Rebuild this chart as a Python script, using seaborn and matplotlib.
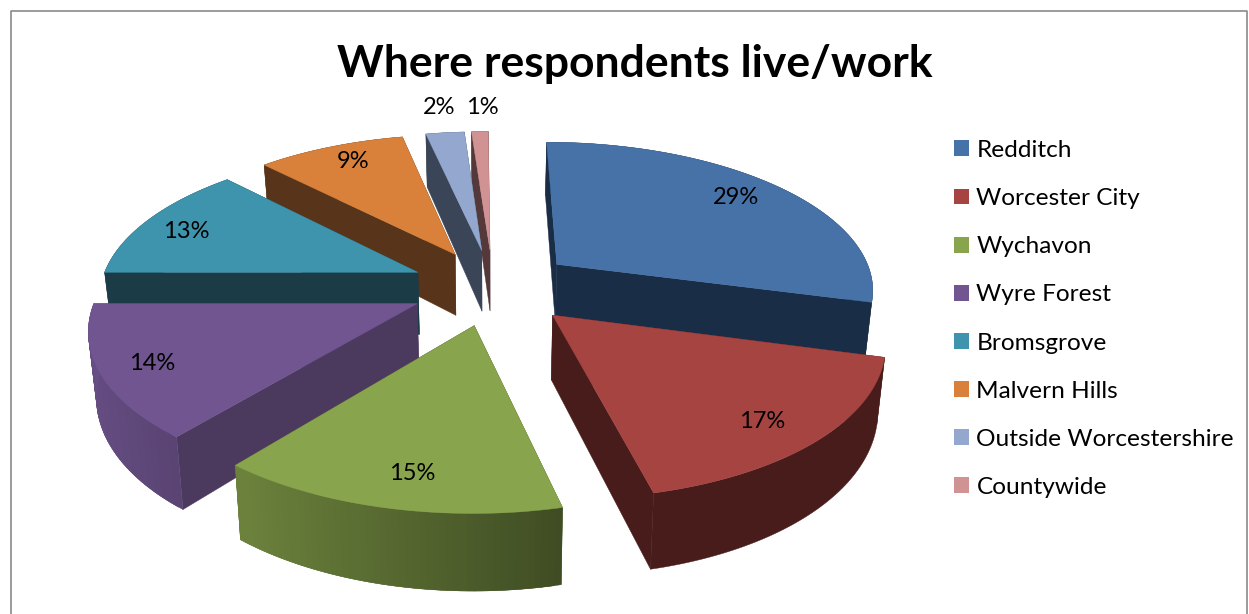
import numpy as np
import matplotlib
matplotlib.use("Agg")
import matplotlib.pyplot as plt
from matplotlib.patches import Patch
import seaborn as sns

categories = ["Redditch", "Worcester City", "Wychavon", "Wyre Forest",
              "Bromsgrove", "Malvern Hills", "Outside Worcestershire", "Countywide"]
values = [29.2, 17.1, 14.6, 14.1, 12.8, 8.9, 2.3, 1.0]
top_colors = ["#4672A8", "#A64442", "#88A44C", "#705590",
              "#3F94AD", "#D9813B", "#94A8CF", "#D09293"]
wall_colors = ["#1A2D46", "#471C1A", "#3F4D22", "#4B3A5E",
               "#1B3B47", "#57341A", "#3A4558", "#54383A"]
label_px = [(736, 197), (762, 421), (412, 474), (152, 364),
            (186, 232), (353, 162), (439, 108), (482, 108)]
title = "Where respondents live/work"

CX, CY, R, A, P, H, EXPLODE, SHEAR = 493, 287, 318, 146.7, 0.15, 63, 0.26, 2.0
draw_order = [7, 6, 5, 4, 3, 2, 0, 1]

sns.set_theme(style="white")
plt.rcParams["font.family"] = ["Lato", "DejaVu Sans"]
palette = sns.color_palette(top_colors)
dark = sns.color_palette(wall_colors)


def project(X, Y, z=0.0):
    X, Y = np.asarray(X, float), np.asarray(Y, float)
    w = 1 + P * Y
    return CX - SHEAR * Y + R * X / w * (1 - 0.02 * z), CY - A * Y / w + z * H / w


fig = plt.figure(figsize=(12.49, 6.14), dpi=100)
ax = fig.add_axes([0, 0, 1, 1])
ax.set_xlim(0, 1249)
ax.set_ylim(614, 0)
ax.axis("off")

edges = np.r_[0, np.cumsum(values)] / sum(values) * 2 * np.pi


def poly(xs, ys, color):
    ax.fill(xs, ys, facecolor=color, edgecolor=color, linewidth=0.3)


for i in draw_order:
    a0, a1 = edges[i], edges[i + 1]
    mid = (a0 + a1) / 2
    ox, oy = EXPLODE * np.sin(mid), EXPLODE * np.cos(mid)
    th = np.linspace(a0, a1, max(int(np.degrees(a1 - a0)), 4) + 1)
    rx, ry = ox + np.sin(th), oy + np.cos(th)
    tx, ty = project(rx, ry, 0)
    bx, by = project(rx, ry, 1)
    ax_t, ay_t = project(ox, oy, 0)
    ax_b, ay_b = project(ox, oy, 1)
    # cut faces
    for k in (0, -1):
        poly([ax_t, tx[k], bx[k], ax_b], [ay_t, ty[k], by[k], ay_b], dark[i])
    # rim
    if i in (2, 3):
        shade = np.interp(np.sin(th), [-1, -0.64, 0.25, 1], [0.92, 0.80, 0.46, 0.42])
        base = np.array(palette[i])
        n = len(th)
        for k in range(n - 1):
            # each band runs under the next one so no seams show
            e = min(k + 2, n - 1)
            col = tuple(base * (shade[k] + shade[k + 1]) / 2)
            idx = np.arange(k, e + 1)
            poly(np.r_[tx[idx], bx[idx][::-1]], np.r_[ty[idx], by[idx][::-1]], col)
    else:
        poly(np.r_[tx, bx[::-1]], np.r_[ty, by[::-1]], dark[i])
    # top face
    poly(np.r_[ax_t, tx], np.r_[ay_t, ty], palette[i])

for (lx, ly), v in zip(label_px, values):
    ax.text(lx, ly, f"{v:.0f}%", ha="center", va="center", fontsize=17, color="black")

ax.text(635, 64, title, ha="center", va="center", fontsize=32, fontweight="bold", color="black")

handles = [Patch(facecolor=c, edgecolor="none") for c in palette]
ax.legend(handles, categories, loc="upper left", bbox_to_anchor=(954 / 1249, 1 - 140 / 614),
          frameon=False, fontsize=17.6, labelspacing=1.11, handlelength=0.62, handleheight=0.62,
          handletextpad=0.3, borderpad=0, borderaxespad=0, labelcolor="black")

ax.plot([11, 11, 1247, 1247], [614, 11, 11, 614], color="#8A8A8A", linewidth=1.2)

fig.savefig("out.png", dpi=100)
